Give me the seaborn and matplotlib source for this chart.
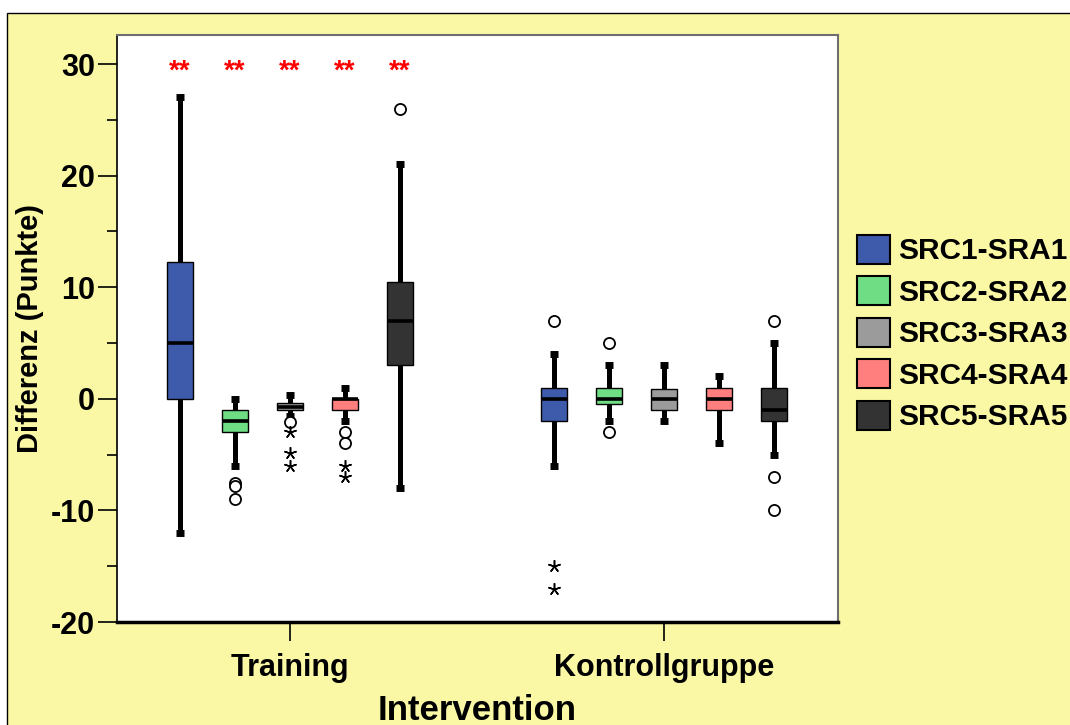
import numpy as np
import pandas as pd
import matplotlib
matplotlib.use("Agg")
import matplotlib.pyplot as plt
from matplotlib.patches import Rectangle
import seaborn as sns

# ---------------- data ----------------
groups = ["Training", "Kontrollgruppe"]
series = ["SRC1-SRA1", "SRC2-SRA2", "SRC3-SRA3", "SRC4-SRA4", "SRC5-SRA5"]
colors = ["#3D5AAB", "#6FDD83", "#9B9B9B", "#FF7F7F", "#333333"]

# five-number summaries per group (order follows `series`)
train_low = [-12.0, -6.0, -1.5, -2.0, -8.0]
train_q1 = [0.0, -3.0, -1.0, -1.0, 3.0]
train_med = [5.0, -2.0, -0.7, 0.0, 7.0]
train_q3 = [12.3, -1.0, -0.35, 0.0, 10.5]
train_high = [27.0, 0.0, 0.3, 1.0, 21.0]

ctrl_low = [-6.0, -2.0, -2.0, -4.0, -5.0]
ctrl_q1 = [-2.0, -0.5, -1.0, -1.0, -2.0]
ctrl_med = [0.0, 0.0, 0.0, 0.0, -1.0]
ctrl_q3 = [1.0, 1.0, 0.9, 1.0, 1.0]
ctrl_high = [4.0, 3.0, 3.0, 2.0, 5.0]

# outliers: "o" = mild (circle), "*" = extreme (star)
out_group = ["Training"] * 12 + ["Kontrollgruppe"] * 8
out_series = ["SRC2-SRA2", "SRC2-SRA2", "SRC2-SRA2",
              "SRC3-SRA3", "SRC3-SRA3", "SRC3-SRA3", "SRC3-SRA3",
              "SRC4-SRA4", "SRC4-SRA4", "SRC4-SRA4", "SRC4-SRA4",
              "SRC5-SRA5",
              "SRC1-SRA1", "SRC1-SRA1", "SRC1-SRA1",
              "SRC2-SRA2", "SRC2-SRA2",
              "SRC5-SRA5", "SRC5-SRA5", "SRC5-SRA5"]
out_value = [-7.5, -7.8, -9.0,
             -2.05, -3.0, -4.9, -6.0,
             -3.0, -4.0, -6.0, -7.0,
             26.0,
             7.0, -15.0, -17.0,
             5.0, -3.0,
             7.0, -7.0, -10.0]
out_kind = ["o", "o", "o",
            "o", "*", "*", "*",
            "o", "o", "*", "*",
            "o",
            "o", "*", "*",
            "o", "o",
            "o", "o", "o"]

sig_label = "**"
sig_group = "Training"
sig_y = 29.3

# ---------------- build long-form table ----------------
rows = []
for g, stats in zip(groups, [(train_low, train_q1, train_med, train_q3, train_high),
                             (ctrl_low, ctrl_q1, ctrl_med, ctrl_q3, ctrl_high)]):
    for i, s in enumerate(series):
        for arr in stats:
            rows.append({"Intervention": g, "Reihe": s, "Differenz": arr[i]})
df = pd.DataFrame(rows)

# ---------------- style ----------------
sns.set_style("white")
plt.rcParams["font.family"] = ["Liberation Sans", "DejaVu Sans"]
plt.rcParams["font.weight"] = "bold"
plt.rcParams["text.color"] = "black"
plt.rcParams["axes.labelcolor"] = "black"
plt.rcParams["xtick.color"] = "black"
plt.rcParams["ytick.color"] = "black"
plt.rcParams["axes.unicode_minus"] = False

W, H = 1070, 725
fig = plt.figure(figsize=(W / 100, H / 100), dpi=100, facecolor="white")
fig.patches.append(Rectangle((7 / W, -0.01), 1.1, (H - 13) / H + 0.01,
                             transform=fig.transFigure, facecolor="#FAF8A4",
                             edgecolor="black", linewidth=1.0, zorder=-10))

ax = fig.add_axes([117 / W, (H - 622) / H, (838 - 117) / W, (622 - 35) / H])
ax.set_facecolor("white")

box_width = 0.735
gap = 0.527
sns.boxplot(data=df, x="Intervention", y="Differenz", hue="Reihe",
            order=groups, hue_order=series, palette=colors,
            width=box_width, gap=gap, whis=(0, 100), showfliers=False,
            linecolor="black", linewidth=1.0, saturation=1,
            medianprops=dict(linewidth=2.6, color="black"),
            whiskerprops=dict(linewidth=3.6, color="black"),
            capprops=dict(linewidth=5, color="black", solid_capstyle="butt"),
            capwidths=0.022,
            ax=ax)

slot = box_width / len(series)

def xpos(g, s):
    return groups.index(g) + (series.index(s) - (len(series) - 1) / 2) * slot

for g, s, v, k in zip(out_group, out_series, out_value, out_kind):
    if k == "o":
        ax.plot(xpos(g, s), v, marker="o", ms=8, mfc="white", mec="black",
                mew=1.3, ls="none", zorder=5)
    else:
        ax.plot(xpos(g, s), v, marker=(5, 2, 0), ms=9, mec="black",
                mew=1.1, ls="none", zorder=5)

for s in series:
    ax.text(xpos(sig_group, s), sig_y, sig_label, color="red", ha="center",
            va="center", fontsize=20, fontweight="bold")

ax.set_xlim(-0.4626, 1.4652)
ax.set_ylim(-20, 32.6)
ax.set_yticks([-20, -10, 0, 10, 20, 30])
ax.set_yticks(np.arange(-15, 31, 10), minor=True)
ax.tick_params(axis="y", which="major", length=14, width=1.2, direction="out",
               labelsize=22, pad=2, left=True, colors="black")
ax.tick_params(axis="y", which="minor", length=7, width=1.2, direction="out", left=True)
ax.tick_params(axis="x", which="major", length=14, width=1.2, direction="out",
               labelsize=22, pad=8, bottom=True, colors="black")
for lab in ax.get_xticklabels() + ax.get_yticklabels():
    lab.set_fontweight("bold")

ax.set_xlabel("Intervention", fontsize=25, fontweight="bold", labelpad=8)
ax.set_ylabel("Differenz (Punkte)", fontsize=21, fontweight="bold", labelpad=5)

for side in ["top", "right"]:
    ax.spines[side].set_color("#6E6E6E")
    ax.spines[side].set_linewidth(1.5)
ax.spines["left"].set_color("black")
ax.spines["left"].set_linewidth(1.2)
ax.spines["bottom"].set_color("black")
ax.spines["bottom"].set_linewidth(2.5)

sns.move_legend(ax, "upper left", bbox_to_anchor=(1.026, 0.660), title=None,
                frameon=False, prop={"weight": "bold", "size": 21.5},
                handlelength=1.13, handleheight=1.13, labelspacing=0.36,
                handletextpad=0.25, borderpad=0, borderaxespad=0)
leg = ax.get_legend()
for h in leg.legend_handles:
    h.set_edgecolor("black")
    h.set_linewidth(1.5)
for t in leg.get_texts():
    t.set_color("black")

fig.savefig("out.png", dpi=100, facecolor=fig.get_facecolor())
